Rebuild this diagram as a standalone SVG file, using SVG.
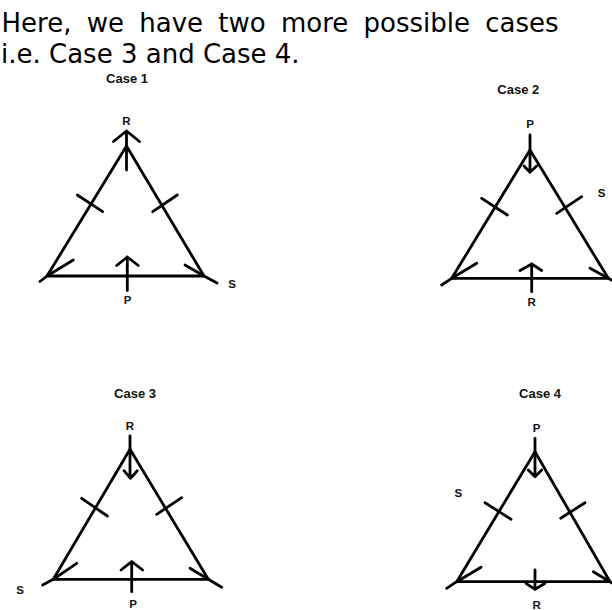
<svg xmlns="http://www.w3.org/2000/svg" width="612" height="610" viewBox="0 0 612 610">
<style>
.bg{fill:#fff}
.ln{fill:none;stroke:#000;stroke-width:2.8;stroke-linecap:round;stroke-linejoin:round}
.main{font-family:"DejaVu Sans",Verdana,sans-serif;font-size:26px;fill:#000}
.title{font-family:"Liberation Sans",Arial,sans-serif;font-weight:bold;font-size:13px;fill:#111;text-anchor:middle}
.lbl{font-family:"Liberation Sans",Arial,sans-serif;font-weight:bold;font-size:11.5px;fill:#111;text-anchor:middle}
</style>
<rect class="bg" x="0" y="0" width="612" height="610"/>
<g id="intro">
<text class="main" x="1.5" y="32.3" word-spacing="7">Here, we have two more possible cases</text>
<text class="main" x="1" y="63">i.e. Case 3 and Case 4.</text>
</g>
<g id="case1">
<text class="title" x="127" y="82.5">Case 1</text>
<text class="lbl" x="126.5" y="125">R</text>
<text class="lbl" x="127.5" y="304">P</text>
<text class="lbl" x="232" y="287.5">S</text>
<path class="ln" d="M40,281.5 L47,276 L126.5,146 L204,276 L217,283 M47,276 H204"/>
<path class="ln" d="M126.5,131 V170 M113.5,141.5 L126.5,131 L139.5,141.5"/>
<path class="ln" d="M127.3,257 V290.5 M116.7,265.5 L127.3,257 L138.3,265.5"/>
<path class="ln" d="M77.3,195 L102.7,211.7 M152.7,211.7 L177.3,195"/>
<path class="ln" d="M47,276 L73.3,260 M204,276 L185,265"/>
</g>
<g id="case2">
<text class="title" x="518.3" y="94">Case 2</text>
<text class="lbl" x="530" y="127.5">P</text>
<text class="lbl" x="531.7" y="306">R</text>
<text class="lbl" x="601.7" y="196.5">S</text>
<path class="ln" d="M441.7,285 L451.7,278.3 L530,150 L608.3,278.3 L618,284 M451.7,278.3 H608.3"/>
<path class="ln" d="M530,135 V172 M524,166 L530,172.3 L536.7,166"/>
<path class="ln" d="M531.7,264 V291.7 M520,270.5 L531.7,264 L541.7,270.5"/>
<path class="ln" d="M481.7,198.3 L507.3,215 M556.7,213.3 L581.7,196.7"/>
<path class="ln" d="M451.7,278.3 L476.7,263.3 M608.3,278.3 L590,268.3"/>
</g>
<g id="case3">
<text class="title" x="135" y="398">Case 3</text>
<text class="lbl" x="130" y="430">R</text>
<text class="lbl" x="133" y="608">P</text>
<text class="lbl" x="20" y="594">S</text>
<path class="ln" d="M42.7,585 L53.3,579.3 L130,449.3 L208.3,579.3 L221.7,587.3 M53.3,579.3 H208.3"/>
<path class="ln" d="M130,436 V478 M124,470.7 L130.5,478.3 L137.3,470.7"/>
<path class="ln" d="M131.7,561.7 V591.7 M121,570 L131.7,561.7 L142.7,570"/>
<path class="ln" d="M81.7,498.3 L107.3,516 M156.7,514.3 L181.7,497.7"/>
<path class="ln" d="M53.3,579.3 L76.7,563.3 M208.3,579.3 L190,568.3"/>
</g>
<g id="case4">
<text class="title" x="540" y="397.7">Case 4</text>
<text class="lbl" x="536.7" y="431.5">P</text>
<text class="lbl" x="536.7" y="608.5">R</text>
<text class="lbl" x="458.3" y="496.5">S</text>
<path class="ln" d="M446.7,588.3 L456.7,581.7 L535,451.7 L610,581.7 L620,588 M456.7,581.7 H610"/>
<path class="ln" d="M535,438.3 V476 M528.3,470 L535,476.7 L541.7,470"/>
<path class="ln" d="M535,570 V589 M526,583.3 L535,589.3 L545,583.3"/>
<path class="ln" d="M485,502.7 L511,519.3 M560.7,518.3 L585,502.7"/>
<path class="ln" d="M456.7,581.7 L481,567.3 M610,581.7 L593.3,571.7"/>
</g>
</svg>
